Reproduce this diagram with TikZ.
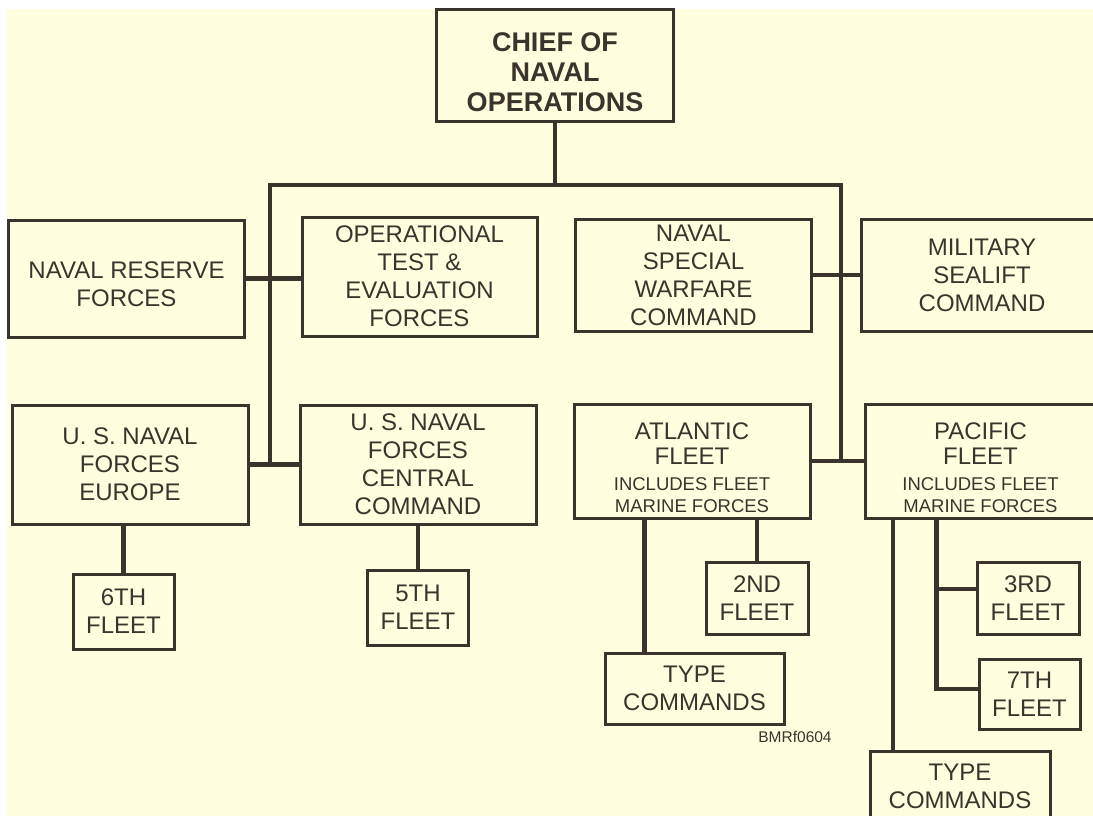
\documentclass[tikz,border=0pt]{standalone}
\usepackage{fontspec}
\setmainfont{Liberation Sans}
\usetikzlibrary{positioning,calc}
\definecolor{chartbg}{RGB}{255,255,223}
\definecolor{chartline}{RGB}{58,52,44}
\newcommand{\smalltxt}{\fontsize{18.5}{22}\selectfont}
\newcommand{\dropline}[1]{\rule{0pt}{#1}}

\begin{document}
\begin{tikzpicture}[x=1pt,y=-1pt,
    box/.style={draw=chartline,line width=3pt,fill=chartbg,align=center,inner sep=0pt,text=chartline,font=\fontsize{24}{28}\selectfont},
    openbox/.style={box,draw=none,outer sep=0pt},
    boxedge/.style={draw=chartline,line width=3pt},
    wide/.style={box,minimum width=236pt,minimum height=117pt},
    fleet/.style={box,minimum width=101pt,minimum height=73pt},
    typebox/.style={box,minimum width=180pt,minimum height=71pt},
    link/.style={draw=chartline,line width=4.5pt}
]
\useasboundingbox (0,0) rectangle (1093,816);
\clip (0,0) rectangle (1093,816);
\fill[white] (0,0) rectangle (1093,816);
\fill[chartbg] (7,9) rectangle (1093,816);

\node[box,minimum width=237pt,minimum height=111pt,font=\fontsize{27}{30}\selectfont\bfseries] (cno) at (555,65.5) {\dropline{33pt}CHIEF OF\\NAVAL\\OPERATIONS};

\node[wide] (reserve) at (126.5,278.5) {\dropline{29pt}NAVAL RESERVE\\FORCES};
\node[wide,minimum width=235pt,minimum height=119pt] (optest) at (419.5,276.5) {OPERATIONAL\\TEST \&\\EVALUATION\\FORCES};
\node[wide,minimum height=112pt] (nswc) at (693.5,275) {NAVAL\\SPECIAL\\WARFARE\\COMMAND};
\node[wide,openbox,minimum width=242pt,minimum height=112pt] (msc) at (982,275) {MILITARY\\SEALIFT\\COMMAND};
\draw[boxedge] (msc.north east) -- (msc.north west) -- (msc.south west) -- (msc.south east);

\node[wide,minimum height=119pt] (eur) at (130,464.5) {U. S. NAVAL\\FORCES\\EUROPE};
\node[wide,minimum height=119pt] (cent) at (418,464.5) {U. S. NAVAL\\FORCES\\CENTRAL\\COMMAND};
\node[wide,minimum height=114pt] (atl) at (692,461) {\dropline{31pt}ATLANTIC\\[-3pt]FLEET\\[-2pt]{\smalltxt INCLUDES FLEET}\\[-6pt]{\smalltxt MARINE FORCES}};
\node[wide,openbox,minimum width=231pt,minimum height=114pt] (pac) at (980.5,461) {\dropline{31pt}PACIFIC\\[-3pt]FLEET\\[-2pt]{\smalltxt INCLUDES FLEET}\\[-6pt]{\smalltxt MARINE FORCES}};
\draw[boxedge] (pac.north east) -- (pac.north west) -- (pac.south west) -- (pac.south east);

\node[fleet,minimum height=75pt] (sixth) at (123.5,611.5) {6TH\\FLEET};
\node[fleet,minimum height=75pt] (fifth) at (418,607.5) {5TH\\FLEET};
\node[fleet,minimum width=102pt,minimum height=72pt] (second) at (757,598) {2ND\\FLEET};
\node[fleet,minimum width=102pt,minimum height=72pt] (third) at (1028,598) {3RD\\FLEET};
\node[fleet,minimum height=70pt] (seventh) at (1029.5,694) {7TH\\FLEET};
\node[typebox,minimum width=179pt] (typeatl) at (694.5,688.5) {TYPE\\COMMANDS};
\node[typebox] (typepac) at (960,786.5) {TYPE\\COMMANDS};
\node[text=chartline,font=\fontsize{15.5}{18}\selectfont,inner sep=0pt] (tag) at (795,737) {BMRf0604};

\coordinate (bl) at (270,185);
\coordinate (br) at (841,185);
\draw[link] (cno.south) -- (cno.south |- bl);
\draw[link] (bl |- eur.east) -- (bl) -- (br) -- (br |- atl.east);
\draw[link] (reserve.east) -- (reserve.east -| optest.west);
\draw[link] (nswc.east) -- (msc.west);
\draw[link] (eur.east) -- (cent.west);
\draw[link] (atl.east) -- (pac.west);
\draw[link] (sixth.north |- eur.south) -- (sixth.north);
\draw[link] (fifth.north |- cent.south) -- (fifth.north);
\draw[link] (second.north |- atl.south) -- (second.north);
\draw[link] ([xshift=-50pt]typeatl.north |- atl.south) -- ([xshift=-50pt]typeatl.north);
\draw[link] ([xshift=-67pt]typepac.north |- pac.south) -- ([xshift=-67pt]typepac.north);
\draw[link] ([xshift=-44pt]pac.south) |- ([yshift=5pt]seventh.west);
\draw[link] ([xshift=-44pt,yshift=9pt]pac.south |- third.west) -- ([yshift=9pt]third.west);
\end{tikzpicture}
\end{document}
